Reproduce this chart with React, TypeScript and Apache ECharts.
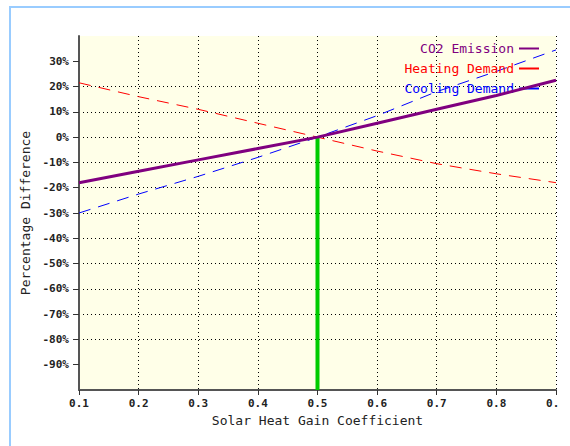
import React, { useEffect, useRef } from "react";
import * as echarts from "echarts";

const shgc = [0.1, 0.2, 0.3, 0.4, 0.5, 0.6, 0.7, 0.8, 0.9];
const co2Emission = [-18, -13.5, -9, -4.5, 0, 5.5, 11, 16.5, 22.5];
const heatingDemand = [21.5, 16, 11, 5.5, 0, -5.5, -10.5, -14.5, -18];
const coolingDemand = [-30, -22.5, -15.5, -8, 0, 8.5, 18, 26, 34.5];
const markerX = [0.5, 0.5];
const markerY = [0, -100];
const yTickValues = [-90, -80, -70, -60, -50, -40, -30, -20, -10, 0, 10, 20, 30];

const MONO = "'DejaVu Sans Mono', 'Liberation Mono', monospace";

export default function App() {
  const ref = useRef<HTMLDivElement>(null);
  useEffect(() => {
    if (!ref.current) return;
    const chart = echarts.init(ref.current, undefined, { renderer: "svg" });
    const pts = (ys: number[]) => shgc.map((x, i) => [x, ys[i]]);
    chart.setOption({
      animation: false,
      backgroundColor: "transparent",
      grid: {
        left: 79,
        top: 36,
        right: 3,
        bottom: 56,
        show: true,
        backgroundColor: "#ffffe8",
        borderWidth: 0,
        containLabel: false,
        outerBoundsMode: "none",
      },
      legend: {
        orient: "vertical",
        align: "right",
        right: 19,
        top: 42,
        padding: 0,
        itemWidth: 20,
        itemHeight: 14,
        itemGap: 7,
        textStyle: { fontFamily: MONO, fontSize: 13 },
        lineStyle: { type: "solid" },
        itemStyle: { opacity: 0 },
        data: [
          { name: "CO2 Emission", textStyle: { color: "#800080" } },
          { name: "Heating Demand", textStyle: { color: "#ff0000" } },
          { name: "Cooling Demand", textStyle: { color: "#0000ff" } },
        ],
      },
      xAxis: {
        type: "value",
        min: 0.1,
        max: 0.9,
        interval: 0.1,
        name: "Solar Heat Gain Coefficient",
        nameLocation: "middle",
        nameGap: 22,
        nameTextStyle: { fontFamily: MONO, fontSize: 13, color: "#222" },
        axisLine: { show: true, onZero: false, lineStyle: { color: "#555", width: 2 } },
        axisTick: { show: true, length: 5, lineStyle: { color: "#333", width: 1 } },
        axisLabel: {
          fontFamily: MONO,
          fontSize: 11,
          fontWeight: "bold",
          color: "#222",
          margin: 8,
          hideOverlap: false,
          formatter: (v: number) => v.toFixed(1),
        },
        splitLine: {
          show: true,
          showMinLine: false,
          lineStyle: { color: "#000", type: [1, 3], width: 1 },
        },
      },
      yAxis: {
        type: "value",
        min: -100,
        max: 40,
        interval: 10,
        name: "Percentage Difference",
        nameLocation: "middle",
        nameGap: 33,
        nameTextStyle: { fontFamily: MONO, fontSize: 13, color: "#222" },
        axisLine: { show: true, onZero: false, lineStyle: { color: "#555", width: 2 } },
        axisTick: {
          show: true,
          length: 6,
          customValues: yTickValues,
          lineStyle: { color: "#333", width: 1 },
        },
        axisLabel: {
          fontFamily: MONO,
          fontSize: 11,
          fontWeight: "bold",
          color: "#222",
          margin: 10,
          customValues: yTickValues,
          formatter: (v: number) => `${v}%`,
        },
        splitLine: {
          show: true,
          showMinLine: false,
          showMaxLine: false,
          lineStyle: { color: "#000", type: [1, 3], width: 1 },
        },
      },
      series: [
        {
          name: "SHGC",
          type: "line",
          symbol: "none",
          data: markerX.map((x, i) => [x, markerY[i]]),
          lineStyle: { color: "#00cc00", width: 4 },
          itemStyle: { color: "#00cc00" },
          z: 1,
        },
        {
          name: "Heating Demand",
          type: "line",
          symbol: "none",
          data: pts(heatingDemand),
          lineStyle: { color: "#ff0000", width: 1, type: [12, 8] },
          itemStyle: { color: "#ff0000" },
          z: 2,
        },
        {
          name: "Cooling Demand",
          type: "line",
          symbol: "none",
          data: pts(coolingDemand),
          lineStyle: { color: "#0000ff", width: 1, type: [12, 8] },
          itemStyle: { color: "#0000ff" },
          z: 3,
        },
        {
          name: "CO2 Emission",
          type: "line",
          symbol: "none",
          data: pts(co2Emission),
          lineStyle: { color: "#800080", width: 3 },
          itemStyle: { color: "#800080" },
          z: 4,
        },
      ],
    });
    return () => chart.dispose();
  }, []);

  return (
    <>
      <div
        style={{
          position: "absolute",
          left: 9,
          top: 6,
          width: 561,
          height: 440,
          boxSizing: "border-box",
          borderLeft: "2px solid #99ccff",
          borderTop: "2px solid #99ccff",
        }}
      />
      <div
        ref={ref}
        style={{ position: "absolute", left: 0, top: 0, width: 559, height: 446, overflow: "hidden" }}
      />
    </>
  );
}
